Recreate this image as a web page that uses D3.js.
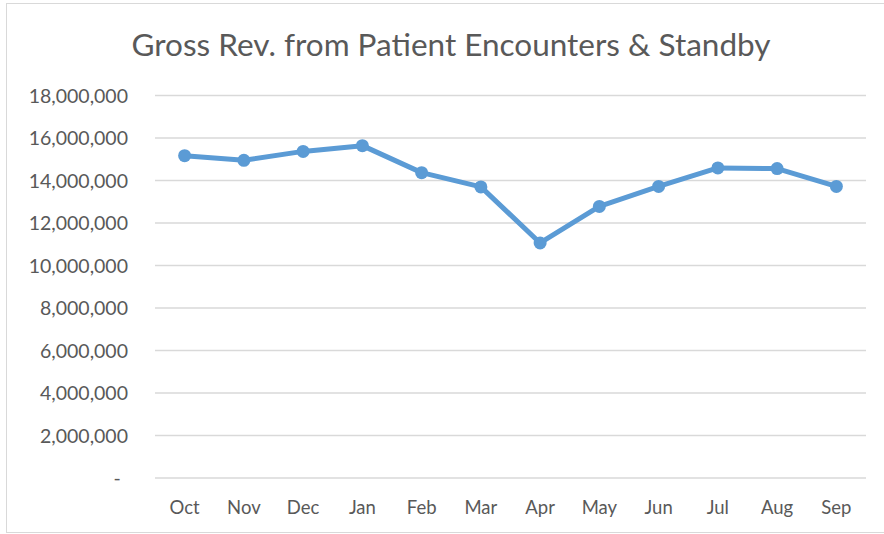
<!DOCTYPE html>
<html>
<head>
<meta charset="utf-8">
<script src="https://cdn.jsdelivr.net/npm/d3@7"></script>
<style>
body { margin: 0; background: #fff; }
text { font-family: Lato, 'Open Sans', sans-serif; fill: #595959; }
</style>
</head>
<body>
<script>
var months = ['Oct','Nov','Dec','Jan','Feb','Mar','Apr','May','Jun','Jul','Aug','Sep'];
var revenue = [15170000, 14950000, 15370000, 15640000, 14370000, 13700000,
               11060000, 12780000, 13720000, 14590000, 14560000, 13720000];
var yTicks = [0, 2000000, 4000000, 6000000, 8000000, 10000000, 12000000, 14000000, 16000000, 18000000];

var chart = d3.select('body').append('svg')
    .attr('width', 884)
    .attr('height', 534);

// chart border
chart.append('rect')
    .attr('x', 6.5)
    .attr('y', 3.5)
    .attr('width', 890)
    .attr('height', 529)
    .attr('fill', 'none')
    .attr('stroke', '#d9d9d9');

chart.append('text')
    .attr('x', 451)
    .attr('y', 56)
    .attr('text-anchor', 'middle')
    .style('font-size', '31.5px')
    .text('Gross Rev. from Patient Encounters & Standby');

var x = d3.scalePoint()
    .domain(months)
    .range([155, 866])
    .padding(0.5);

var y = d3.scaleLinear()
    .domain([0, 18000000])
    .range([478, 95.5]);

// gridlines
chart.append('g')
    .selectAll('line')
    .data(yTicks)
    .enter().append('line')
    .attr('x1', 155)
    .attr('x2', 866)
    .attr('y1', function(d){ return y(d); })
    .attr('y2', function(d){ return y(d); })
    .attr('stroke', '#d9d9d9')
    .attr('stroke-width', 1.5);

// y labels
var fmt = d3.format(',');
chart.append('g')
    .selectAll('text')
    .data(yTicks)
    .enter().append('text')
    .attr('x', function(d){ return d == 0 ? 117 : 128; })
    .attr('y', function(d){ return y(d) + 7; })
    .attr('text-anchor', function(d){ return d == 0 ? 'middle' : 'end'; })
    .style('font-size', '19.5px')
    .text(function(d){ return d == 0 ? '-' : fmt(d); });

// x labels
chart.append('g')
    .selectAll('text')
    .data(months)
    .enter().append('text')
    .attr('x', function(d){ return x(d); })
    .attr('y', 514)
    .attr('text-anchor', 'middle')
    .style('font-size', '18.5px')
    .text(function(d){ return d; });

var line = d3.line()
    .x(function(d, i){ return x(months[i]); })
    .y(function(d){ return y(d); });

chart.append('path')
    .datum(revenue)
    .attr('d', line)
    .attr('fill', 'none')
    .attr('stroke', '#5b9bd5')
    .attr('stroke-width', 5)
    .attr('stroke-linejoin', 'round');

chart.append('g')
    .selectAll('circle')
    .data(revenue)
    .enter().append('circle')
    .attr('cx', function(d, i){ return x(months[i]); })
    .attr('cy', function(d){ return y(d); })
    .attr('r', 6.5)
    .attr('fill', '#5b9bd5');
</script>
</body>
</html>
